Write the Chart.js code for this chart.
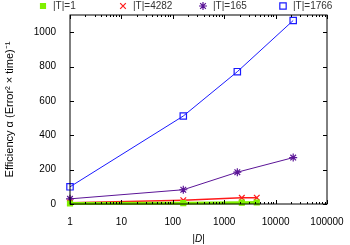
<!DOCTYPE html>
<html lang="en">
<head>
<meta charset="UTF-8" />
<title>Efficiency vs |D|</title>
<script src="https://cdn.jsdelivr.net/npm/chart.js"></script>
<style>
  html, body { margin: 0; padding: 0; background: #fff; }
  #wrap { width: 350px; height: 245px; position: relative; }
</style>
</head>
<body>
<div id="wrap"><canvas id="effChart"></canvas></div>
<script>
// series labels
const seriesLabels = ["|T|=1", "|T|=4282", "|T|=165", "|T|=1766"]

// |D| values and efficiency per series
const xT1 = [1, 160, 2200, 4300]
const yT1 = [3, 5, 8, 9]
const xT4282 = [1, 160, 2200, 4300]
const yT4282 = [8, 22, 36, 37]
const xT165 = [1, 160, 1800, 22000]
const yT165 = [30, 83, 185, 270]
const xT1766 = [1, 160, 1800, 22000]
const yT1766 = [100, 512, 770, 1068]

// axis ticks
const xTicks = [1, 10, 100, 1000, 10000, 100000]
const yTicks = [0, 200, 400, 600, 800, 1000]

const font = "'Liberation Sans', Arial, sans-serif"

function pts(xs, ys) {
  return xs.map((x, i) => ({ x, y: ys[i] }))
}

const styles = [
  { color: "#80f000", point: "rect", fill: true, radius: 3.5, width: 3 },
  { color: "#ff1a1a", point: "crossRot", fill: false, radius: 4, width: 1.5 },
  { color: "#5b1597", point: "star", fill: false, radius: 4, width: 1 },
  { color: "#1a1aff", point: "rect", fill: false, radius: 4.5, width: 1 },
]
const seriesData = [pts(xT1, yT1), pts(xT4282, yT4282), pts(xT165, yT165), pts(xT1766, yT1766)]

const datasets = seriesData.map((d, i) => {
  const s = styles[i]
  return {
    label: seriesLabels[i],
    data: d,
    borderColor: s.color,
    backgroundColor: s.fill ? s.color : "rgba(0,0,0,0)",
    borderWidth: s.width,
    pointStyle: s.point,
    pointRadius: s.radius,
    pointBorderWidth: 1.2,
    pointBorderColor: s.color,
    pointBackgroundColor: s.fill ? s.color : "rgba(0,0,0,0)",
    tension: 0,
    clip: false,
  }
})

// gnuplot-style frame, inward ticks and top legend
const framePlugin = {
  id: "frame",
  afterDraw(chart) {
    const ctx = chart.ctx
    const a = chart.chartArea
    const xs = chart.scales.x
    const ys = chart.scales.y
    ctx.save()
    ctx.strokeStyle = "#000"
    ctx.lineWidth = 1
    ctx.strokeRect(a.left, a.top, a.right - a.left, a.bottom - a.top)
    ctx.beginPath()
    yTicks.forEach((v) => {
      const py = Math.round(ys.getPixelForValue(v)) + 0.5
      ctx.moveTo(a.left, py); ctx.lineTo(a.left + 4, py)
      ctx.moveTo(a.right, py); ctx.lineTo(a.right - 4, py)
    })
    xTicks.forEach((v, i) => {
      const px = Math.round(xs.getPixelForValue(v)) + 0.5
      ctx.moveTo(px, a.bottom); ctx.lineTo(px, a.bottom - 4)
      ctx.moveTo(px, a.top); ctx.lineTo(px, a.top + 4)
      if (i < xTicks.length - 1) {
        for (let m = 2; m <= 9; m++) {
          const mx = Math.round(xs.getPixelForValue(v * m)) + 0.5
          ctx.moveTo(mx, a.bottom); ctx.lineTo(mx, a.bottom - 2)
          ctx.moveTo(mx, a.top); ctx.lineTo(mx, a.top + 2)
        }
      }
    })
    ctx.stroke()

    // legend
    ctx.font = "10px " + font
    ctx.textBaseline = "middle"
    ctx.textAlign = "left"
    chart.data.datasets.forEach((ds, i) => {
      const cx = 43 + i * 80
      const cy = 6
      ctx.strokeStyle = ds.pointBorderColor
      ctx.fillStyle = ds.pointBackgroundColor
      ctx.lineWidth = 1.2
      Chart.helpers.drawPoint(ctx, { pointStyle: ds.pointStyle, radius: ds.pointRadius, borderWidth: 1.2, rotation: 0 }, cx, cy)
      ctx.fillStyle = "#333"
      ctx.fillText(ds.label, cx + 10, cy + 0.5)
    })
    ctx.restore()
  },
}

new Chart(document.getElementById("effChart"), {
  type: "line",
  data: { datasets },
  plugins: [framePlugin],
  options: {
    responsive: true,
    maintainAspectRatio: false,
    animation: false,
    layout: { padding: { top: 15, right: 23, left: 3, bottom: 0 } },
    plugins: { legend: { display: false }, tooltip: { enabled: false } },
    scales: {
      x: {
        type: "logarithmic",
        min: 1,
        max: 100000,
        afterBuildTicks: (s) => { s.ticks = xTicks.map((v) => ({ value: v })) },
        afterFit: (s) => { s.height = 41 },
        ticks: {
          color: "#000",
          font: { family: font, size: 10 },
          autoSkip: false,
          maxRotation: 0,
          padding: 4,
          callback: (v) => String(v),
        },
        grid: { display: false },
        border: { display: false },
        title: {
          display: true,
          text: "|D|",
          color: "#000",
          font: { family: font, size: 10, style: "italic" },
          padding: { top: 5, bottom: 0 },
        },
      },
      y: {
        type: "linear",
        min: 0,
        max: 1100,
        afterBuildTicks: (s) => { s.ticks = yTicks.map((v) => ({ value: v })) },
        afterFit: (s) => { s.width = 67 },
        ticks: {
          color: "#000",
          font: { family: font, size: 10 },
          padding: 6,
          callback: (v) => String(v),
        },
        grid: { display: false },
        border: { display: false },
        title: {
          display: true,
          text: "Efficiency α (Error² × time)⁻¹",
          color: "#000",
          font: { family: font, size: 11 },
          padding: { top: 0, bottom: 0 },
        },
      },
    },
  },
})
</script>
</body>
</html>
